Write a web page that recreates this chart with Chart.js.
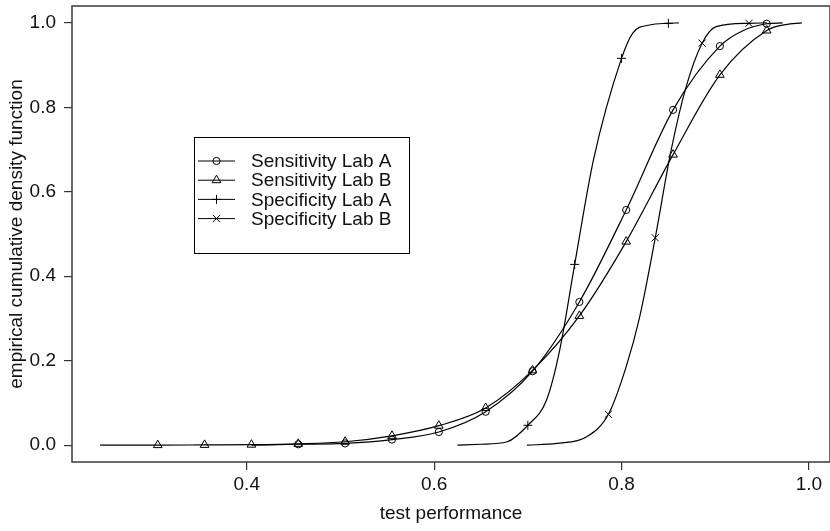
<!DOCTYPE html>
<html lang="en">
<head>
    <meta charset="UTF-8">
    <title>ECDF test performance</title>
    <script src="https://cdn.jsdelivr.net/npm/chart.js"></script>
    <style>
        body {
            margin: 0;
            padding: 0;
            background-color: #fff;
        }

        .plot-wrap {
            width: 830px;
            height: 531px;
            overflow: hidden; /* frame's right edge sits just past the window */
        }
    </style>
</head>
<body>
    <div class="plot-wrap">
        <canvas id="ecdf" width="836" height="531"></canvas>
    </div>

    <script>
        // curves (x = test performance, y = ecdf)
        const sensAX = [0.405, 0.455, 0.505, 0.555, 0.605, 0.655, 0.705, 0.755, 0.805, 0.855, 0.905, 0.93, 0.955, 0.972];
        const sensAY = [0.0, 0.002, 0.004, 0.013, 0.031, 0.079, 0.175, 0.339, 0.557, 0.794, 0.945, 0.982, 0.998, 1.0];
        const sensAMarks = [0.455, 0.505, 0.555, 0.605, 0.655, 0.705, 0.755, 0.805, 0.855, 0.905, 0.955];

        const sensBX = [0.2435, 0.305, 0.355, 0.405, 0.455, 0.505, 0.555, 0.605, 0.655, 0.705, 0.755, 0.805, 0.855, 0.905, 0.955, 0.975, 0.9925];
        const sensBY = [0.0, 0.0, 0.0005, 0.001, 0.003, 0.008, 0.022, 0.046, 0.088, 0.177, 0.306, 0.482, 0.688, 0.877, 0.982, 0.996, 1.0];
        const sensBMarks = [0.305, 0.355, 0.405, 0.455, 0.505, 0.555, 0.605, 0.655, 0.705, 0.755, 0.805, 0.855, 0.905, 0.955];

        const specAX = [0.625, 0.65, 0.678, 0.70, 0.72, 0.734, 0.75, 0.77, 0.80, 0.812, 0.83, 0.85, 0.861];
        const specAY = [0.0, 0.002, 0.008, 0.047, 0.107, 0.225, 0.428, 0.675, 0.916, 0.976, 0.995, 0.999, 1.0];
        const specAMarks = [0.70, 0.75, 0.80, 0.85];

        const specBX = [0.699, 0.731, 0.763, 0.786, 0.805, 0.819, 0.836, 0.853, 0.869, 0.886, 0.901, 0.936, 0.955];
        const specBY = [0.0, 0.004, 0.02, 0.073, 0.186, 0.30, 0.491, 0.699, 0.849, 0.952, 0.991, 0.999, 1.0];
        const specBMarks = [0.786, 0.836, 0.886, 0.936];

        const seriesNames = ['Sensitivity Lab A', 'Sensitivity Lab B', 'Specificity Lab A', 'Specificity Lab B'];

        const xTicks = [0.4, 0.6, 0.8, 1.0];
        const yTicks = [0.0, 0.2, 0.4, 0.6, 0.8, 1.0];

        const FONT = "'Liberation Sans', Arial, Helvetica, sans-serif";
        Chart.defaults.font.family = FONT;
        Chart.defaults.font.size = 19;
        Chart.defaults.color = '#111';

        const toPoints = (xs, ys) => xs.map((x, i) => ({ x: x, y: ys[i] }));
        const markPoints = (xs, ys, marks) => marks.map(m => ({ x: m, y: ys[xs.indexOf(m)] }));

        // marker look per series: R pch 1, 2, 3, 4
        const markStyle = [
            { pointStyle: 'circle', radius: 3.6 },
            { pointStyle: 'triangle', radius: 5 },
            { pointStyle: 'cross', radius: 4.5 },
            { pointStyle: 'crossRot', radius: 5 }
        ];

        const curves = [
            [sensAX, sensAY, sensAMarks],
            [sensBX, sensBY, sensBMarks],
            [specAX, specAY, specAMarks],
            [specBX, specBY, specBMarks]
        ];

        const datasets = [];
        curves.forEach((c, i) => {
            datasets.push({
                label: seriesNames[i],
                data: toPoints(c[0], c[1]),
                borderColor: '#000',
                borderWidth: 1.2,
                pointRadius: 0,
                cubicInterpolationMode: 'monotone',
                fill: false
            });
            datasets.push({
                label: seriesNames[i] + ' marks',
                data: markPoints(c[0], c[1], c[2]),
                showLine: false,
                pointStyle: markStyle[i].pointStyle,
                pointRadius: markStyle[i].radius,
                pointBorderColor: '#000',
                pointBackgroundColor: 'rgba(0,0,0,0)',
                pointBorderWidth: 1
            });
        });

        // box around the plotting region (R style)
        const frame = {
            id: 'frame',
            afterDraw(chart) {
                const { ctx, chartArea: a } = chart;
                ctx.save();
                ctx.strokeStyle = '#3a3a3a';
                ctx.lineWidth = 1.5;
                ctx.strokeRect(a.left, a.top, a.right - a.left, a.bottom - a.top);
                ctx.restore();
            }
        };

        // legend box drawn like R's legend()
        const rLegend = {
            id: 'rLegend',
            afterDraw(chart) {
                const ctx = chart.ctx;
                const box = { x: 194, y: 137, w: 215, h: 116 };
                ctx.save();
                ctx.fillStyle = '#fff';
                ctx.fillRect(box.x, box.y, box.w, box.h);
                ctx.strokeStyle = '#000';
                ctx.lineWidth = 1;
                ctx.strokeRect(box.x + 0.5, box.y + 0.5, box.w, box.h);

                seriesNames.forEach((name, i) => {
                    const y = 161 + i * 19.2;
                    ctx.strokeStyle = '#000';
                    ctx.lineWidth = 1;
                    ctx.beginPath();
                    ctx.moveTo(198, y);
                    ctx.lineTo(235, y);
                    ctx.stroke();
                    ctx.fillStyle = 'rgba(0,0,0,0)';
                    Chart.helpers.drawPoint(ctx, {
                        pointStyle: markStyle[i].pointStyle,
                        radius: markStyle[i].radius,
                        borderWidth: 1,
                        rotation: 0
                    }, 216.5, y);
                    ctx.fillStyle = '#111';
                    ctx.font = '19px ' + FONT;
                    ctx.textBaseline = 'middle';
                    ctx.textAlign = 'left';
                    ctx.fillText(name, 251, y + 1);
                });
                ctx.restore();
            }
        };

        const config = {
            type: 'line',
            data: { datasets: datasets },
            options: {
                responsive: false,
                animation: false,
                layout: { padding: { top: 6, right: 1, left: 0, bottom: 0 } },
                plugins: {
                    legend: { display: false },
                    tooltip: { enabled: false }
                },
                scales: {
                    x: {
                        type: 'linear',
                        min: 0.2135,
                        max: 1.0225,
                        afterBuildTicks: (s) => { s.ticks = xTicks.map(v => ({ value: v })); },
                        afterFit: (s) => {
                            s.height = 69;
                            s.paddingLeft = 0;
                            s.paddingRight = 0;
                        },
                        border: { display: false },
                        grid: {
                            drawOnChartArea: false,
                            drawTicks: true,
                            tickLength: 8,
                            color: '#333',
                            lineWidth: 1.2
                        },
                        ticks: {
                            padding: 3,
                            maxRotation: 0,
                            callback: (v) => v.toFixed(1)
                        },
                        title: {
                            display: true,
                            text: 'test performance',
                            padding: { top: 0, bottom: 6 }
                        }
                    },
                    y: {
                        min: -0.04,
                        max: 1.04,
                        afterBuildTicks: (s) => { s.ticks = yTicks.map(v => ({ value: v })); },
                        afterFit: (s) => {
                            s.width = 72;
                            s.paddingTop = 0;
                            s.paddingBottom = 0;
                        },
                        border: { display: false },
                        grid: {
                            drawOnChartArea: false,
                            drawTicks: true,
                            tickLength: 8,
                            color: '#333',
                            lineWidth: 1.2
                        },
                        ticks: {
                            padding: 8,
                            callback: (v) => v.toFixed(1)
                        },
                        title: {
                            display: true,
                            text: 'empirical cumulative density function',
                            padding: { top: 5, bottom: 0 }
                        }
                    }
                }
            },
            plugins: [frame, rLegend]
        };

        const ecdfChart = new Chart(document.getElementById('ecdf'), config);
    </script>
</body>
</html>
